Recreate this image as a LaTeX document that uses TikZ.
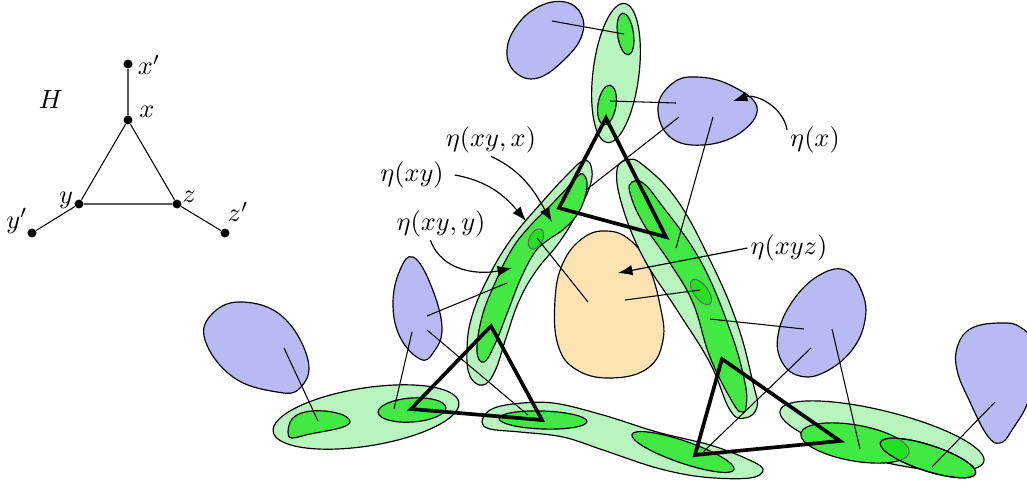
\documentclass[tikz,border=0pt]{standalone}
\usetikzlibrary{arrows.meta}
\definecolor{bblue}{RGB}{185,185,243}
\definecolor{borange}{RGB}{253,226,178}
\definecolor{glight}{RGB}{184,245,190}
\definecolor{gdark}{RGB}{66,233,66}
\definecolor{gbright}{RGB}{32,226,32}
\begin{document}
\begin{tikzpicture}[x=0.38pt,y=-0.38pt,
  blobb/.style={fill=bblue,draw=black,line width=0.45pt},
  blobo/.style={fill=borange,draw=black,line width=0.45pt},
  gl/.style={fill=glight,draw=black,line width=0.45pt},
  gd/.style={fill=gdark,draw=black,line width=0.45pt},
  gs/.style={fill=gbright,draw=black!60,line width=0.4pt},
  conn/.style={line width=0.4pt},
  tri/.style={line width=1.4pt,line join=miter},
  ann/.style={-{Latex[length=5.5pt,width=4pt]},line width=0.45pt},
  vtx/.style={circle,fill=black,inner sep=0pt,minimum size=3.4pt},
  lab/.style={inner sep=1pt},
  sm/.style={smooth cycle,tension=0.7}]
\useasboundingbox (0,0) rectangle (1027,497);

% ---------- graph H ----------
\node[vtx] (xp) at (128,64) {};
\node[vtx] (x) at (128,120) {};
\node[vtx] (y) at (79,204) {};
\node[vtx] (z) at (177,204) {};
\node[vtx] (yp) at (32,233) {};
\node[vtx] (zp) at (225,233) {};
\draw[conn] (xp) -- (x) (x) -- (y) (y) -- (z) (z) -- (x) (y) -- (yp) (z) -- (zp);
\node[lab] (lH) at (51,100) {$H$};
\node[lab] (lxp) at (149,65) {$x'$};
\node[lab] (lx0) at (147,112) {$x$};
\node[lab] (ly0) at (66,200) {$y$};
\node[lab] (lz0) at (189,197) {$z$};
\node[lab] (lyp) at (17,221) {$y'$};
\node[lab] (lzp) at (238,212) {$z'$};

% ---------- blue blobs ----------
\draw[blobb] plot[sm] coordinates {(565,2) (581,14) (582,35) (566,58) (538,78) (515,72) (507,50) (518,24) (540,6)};
\draw[blobb] plot[sm] coordinates {(658,107) (673,83) (697,77) (730,85) (757,107) (740,133) (703,145) (670,137)};
\draw[blobb] plot[sm] coordinates {(413,257) (430,283) (442,327) (433,353) (420,359) (400,337) (393,303) (400,270)};
\draw[blobb] plot[sm] coordinates {(243,302) (283,317) (308,360) (300,388) (277,392) (233,377) (205,340) (213,313)};
\draw[blobb] plot[sm] coordinates {(845,270) (862,292) (865,320) (852,350) (825,372) (800,376) (782,362) (778,335) (792,302) (818,276)};
\draw[blobb] plot[sm] coordinates {(1000,323) (1020,327) (1032,345) (1030,395) (1012,430) (1000,443) (987,435) (970,402) (957,370) (958,345) (972,328)};

% ---------- orange blob ----------
\draw[blobo] plot[sm] coordinates {(607,231) (630,240) (648,265) (660,305) (663,340) (648,368) (612,378) (577,370) (558,345) (555,300) (563,263) (583,238)};

% ---------- green: top ----------
\draw[gl,rotate around={83:(616,73)}] (616,73) ellipse [x radius=70,y radius=23];
\draw[gd,rotate around={98:(625.5,34)}] (625.5,34) ellipse [x radius=21,y radius=8];
\draw[gd,rotate around={81:(607,105)}] (607,105) ellipse [x radius=20,y radius=9];

% ---------- green: left (eta(xy)) ----------
\draw[gl] plot[sm] coordinates {(583,161) (591,166) (590,186) (575,217) (558,244) (536,271) (519,301) (506,338) (495,371) (483,385) (470,376) (467,350) (472,316) (489,276) (512,238) (543,201) (569,173)};
\draw[gd] plot[sm] coordinates {(583,174) (587,186) (580,210) (565,228) (548,240) (535,252) (521,278) (508,311) (495,344) (484,362) (477,351) (482,317) (495,283) (512,249) (530,226) (550,206) (567,188) (577,177)};
\draw[gs,rotate around={62:(536,239)}] (536,239) ellipse [x radius=11,y radius=6.5];

% ---------- green: right ----------
\draw[gl] plot[sm] coordinates {(617,170) (628,160) (643,165) (677,200) (710,260) (737,323) (753,383) (757,407) (745,418) (730,410) (710,363) (677,310) (643,257) (622,205)};
\draw[gd] plot[sm] coordinates {(632,182) (643,183) (660,203) (700,260) (730,330) (745,383) (746,407) (742,412) (733,403) (710,357) (693,303) (670,263) (643,223) (630,193)};
\draw[gs,rotate around={-54:(701,292)}] (701,292) ellipse [x radius=15,y radius=7];

% ---------- green: bottom left ----------
\draw[gl,rotate around={9:(366,417)}] (366,417) ellipse [x radius=94,y radius=29];
\draw[gd] plot[smooth cycle,tension=0.6] coordinates {(288,432) (292,419) (305,412) (325,411) (343,415) (350,422) (340,428) (310,434) (292,438)};
\draw[gd,rotate around={4:(412,410)}] (412,410) ellipse [x radius=34,y radius=12];

% ---------- green: bottom middle ----------
\draw[gl] plot[smooth cycle,tension=0.6] coordinates {(482,422) (490,410) (513,404) (553,403) (603,415) (657,432) (710,445) (745,458) (763,469) (750,478) (703,477) (657,468) (603,450) (563,437) (520,432) (490,429)};
\draw[gd,rotate around={-2:(543,420)}] (543,420) ellipse [x radius=44,y radius=9];
\draw[gd,rotate around={-19:(683,452)}] (683,452) ellipse [x radius=54,y radius=11];

% ---------- green: bottom right ----------
\draw[gl,rotate around={-14:(882,436)}] (882,436) ellipse [x radius=105,y radius=25];
\draw[gd,rotate around={-10:(855,443)}] (855,443) ellipse [x radius=55,y radius=18];
\draw[gd,rotate around={-18:(928,458)}] (928,458) ellipse [x radius=50,y radius=13];
\begin{scope}
  \clip[rotate around={-18:(928,458)}] (928,458) ellipse [x radius=50,y radius=13];
  \draw[gs,rotate around={-10:(855,443)}] (855,443) ellipse [x radius=55,y radius=18];
\end{scope}
\draw[line width=0.45pt,rotate around={-18:(928,458)}] (928,458) ellipse [x radius=50,y radius=13];

% ---------- thin connectors ----------
\coordinate (c1a) at (552,21);  \coordinate (c1b) at (624,34);
\coordinate (c2a) at (610,101); \coordinate (c2b) at (676,103);
\coordinate (c3a) at (679,117); \coordinate (c3b) at (586,190);
\coordinate (c4a) at (713,117); \coordinate (c4b) at (676,248);
\coordinate (c5a) at (625,300); \coordinate (c5b) at (700,290);
\coordinate (c6a) at (537,238); \coordinate (c6b) at (588,302);
\coordinate (c7a) at (427,316); \coordinate (c7b) at (507,283);
\coordinate (c8a) at (412,332); \coordinate (c8b) at (394,409);
\coordinate (c9a) at (427,330); \coordinate (c9b) at (528,415);
\coordinate (c10a) at (284,348); \coordinate (c10b) at (318,421);
\coordinate (c11a) at (804,329); \coordinate (c11b) at (710,319);
\coordinate (c12a) at (811,348); \coordinate (c12b) at (702,453);
\coordinate (c13a) at (832,329); \coordinate (c13b) at (860,449);
\coordinate (c14a) at (995,402); \coordinate (c14b) at (932,467);
\foreach \i in {1,...,14} {\draw[conn] (c\i a) -- (c\i b);}

% ---------- thick triangles ----------
\coordinate (t1a) at (606,118); \coordinate (t1b) at (559,208); \coordinate (t1c) at (666,237);
\coordinate (t2a) at (491,326); \coordinate (t2b) at (411,409); \coordinate (t2c) at (542,420);
\coordinate (t3a) at (722,359); \coordinate (t3b) at (695,455); \coordinate (t3c) at (840,441);
\draw[tri] (t1a) -- (t1b) -- (t1c) -- cycle;
\draw[tri] (t2a) -- (t2b) -- (t2c) -- cycle;
\draw[tri] (t3a) -- (t3b) -- (t3c) -- cycle;

% ---------- annotations ----------
\node[lab] (lx) at (815,140) {$\eta(x)$};
\node[lab] (lxyx) at (491,140) {$\eta(xy,x)$};
\node[lab] (lxy) at (412,175) {$\eta(xy)$};
\node[lab] (lxyy) at (441,224) {$\eta(xy,y)$};
\node[lab] (lxyz) at (789,248) {$\eta(xyz)$};
\coordinate (tx) at (733,101);
\coordinate (txyx) at (552,222);
\coordinate (txy) at (526,221);
\coordinate (txyy) at (512,268);
\coordinate (txyz) at (618,273);
\draw[ann] (lx.160) to[out=100,in=18] (tx);
\draw[ann] (lxyx.south) to[out=-25,in=120] (txyx);
\draw[ann] ([xshift=3pt]lxy.east) to[out=-10,in=130] (txy);
\draw[ann] ([xshift=-4pt]lxyy.south) to[out=-70,in=192] (txyy);
\draw[ann] (lxyz.west) -- (txyz);
\end{tikzpicture}
\end{document}
